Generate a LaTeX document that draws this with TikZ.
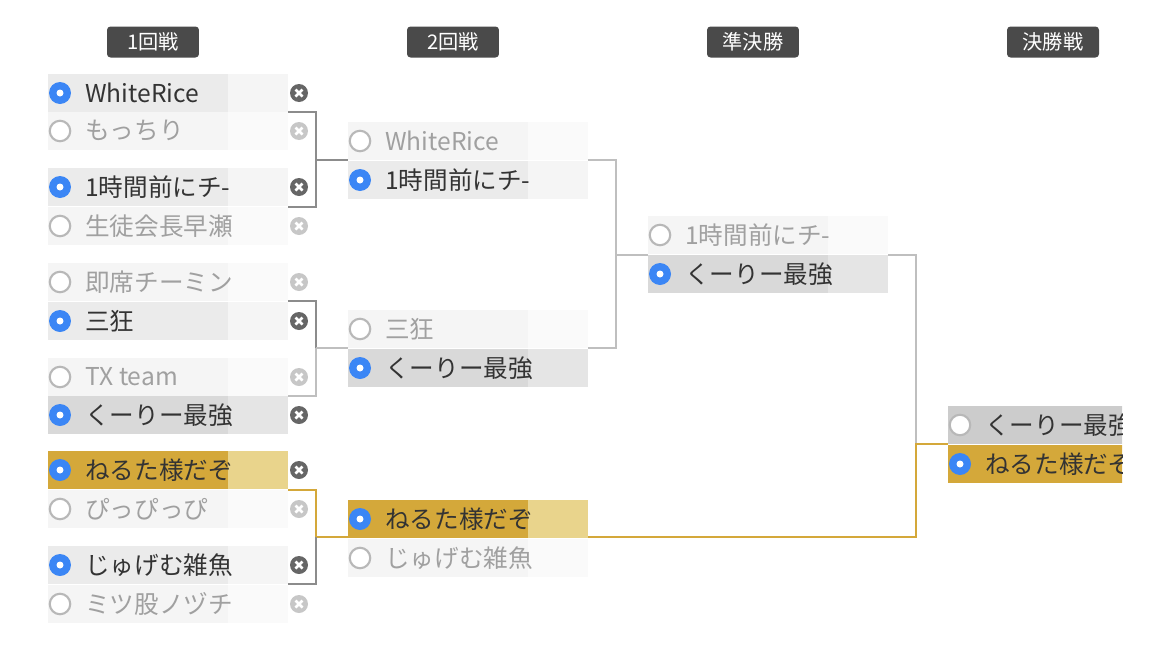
\documentclass[tikz,border=0pt]{standalone}
\usepackage{fontspec}
\setmainfont{Noto Sans CJK JP}
\begin{document}

\definecolor{headbg}{HTML}{4A4A4A}
\definecolor{radioblue}{HTML}{3B86F5}
\definecolor{gold}{HTML}{D4A83A}
\definecolor{goldlt}{HTML}{E9D48C}
\definecolor{wtxt}{HTML}{333333}
\definecolor{ltxt}{HTML}{A0A0A0}

% one slot: name, x, y, left fill, right fill, radio style, text colour, text
\newcommand\slot[8]{%
\fill[#4] (#2,#3-19) rectangle (#2+180,#3+19);
\fill[#5] (#2+180,#3-19) rectangle (#2+240,#3+19);
\node[#6] (#1r) at (#2+12,#3) {};
\node[anchor=west,text=#7,font=\fontsize{14}{16}\selectfont] (#1) at (#2+31,#3) {#8};
}

% remove mark
\newcommand\xmark[3]{%
\fill[#3] (#1,#2) circle (0.18cm);
\draw[white,line width=1.5pt] (#1-3.5,#2-3.5) -- (#1+3.5,#2+3.5) (#1-3.5,#2+3.5) -- (#1+3.5,#2-3.5);
}

\begin{tikzpicture}[x=0.02cm,y=-0.02cm,
  head/.style={fill=headbg,text=white,rounded corners=2pt,minimum width=1.84cm,minimum height=0.62cm,font=\fontsize{11.5}{13}\selectfont,inner sep=0pt},
  on/.style={circle,fill=radioblue,minimum size=0.44cm,inner sep=0pt,
    path picture={\fill[white] (path picture bounding box.center) circle (0.07cm);}},
  off/.style={circle,draw=black!28,line width=1.2pt,fill=white,minimum size=0.41cm,inner sep=0pt},
  line/.style={line width=1.3pt,draw=black!25},
  dline/.style={line width=1.3pt,draw=black!45},
  gline/.style={line width=1.3pt,draw=gold}]

\useasboundingbox (0,0) rectangle (1170,670);

%%% Round headers

\node[head] (h1) at (153,42) {1回戦};
\node[head] (h2) at (453,42) {2回戦};
\node[head] (h3) at (753,42) {準決勝};
\node[head] (h4) at (1053,42) {決勝戦};

%%% Connectors

% round 1 -> round 2
\draw[dline] (288,112) -- (316,112) -- (316,207) -- (288,207);
\draw[dline] (316,160) -- (348,160);
\draw[dline] (288,301) -- (316,301) -- (316,348);
\draw[line] (316,348) -- (316,396) -- (288,396);
\draw[line] (316,348) -- (348,348);
\draw[gline] (288,490) -- (316,490) -- (316,537) -- (348,537);
\draw[dline] (316,537) -- (316,584) -- (288,584);

% round 2 -> semi final
\draw[line] (588,160) -- (616,160) -- (616,348) -- (588,348);
\draw[line] (616,255) -- (648,255);

% semi final -> final
\draw[line] (888,255) -- (916,255) -- (916,444);
\draw[gline] (588,537) -- (916,537) -- (916,444) -- (948,444);

%%% Round 1

\slot{a1}{48}{93}{black!8}{black!4}{on}{wtxt}{WhiteRice}
\slot{a2}{48}{131}{black!4}{black!2}{off}{ltxt}{もっちり}
\slot{a3}{48}{187}{black!8}{black!4}{on}{wtxt}{1時間前にチ-}
\slot{a4}{48}{226}{black!4}{black!2}{off}{ltxt}{生徒会長早瀬}
\slot{a5}{48}{282}{black!4}{black!2}{off}{ltxt}{即席チーミン}
\slot{a6}{48}{321}{black!8}{black!4}{on}{wtxt}{三狂}
\slot{a7}{48}{377}{black!4}{black!2}{off}{ltxt}{TX team}
\slot{a8}{48}{415}{black!15}{black!10}{on}{wtxt}{くーりー最強}
\slot{a9}{48}{470}{gold}{goldlt}{on}{wtxt}{ねるた様だぞ}
\slot{a10}{48}{509}{black!4}{black!2}{off}{ltxt}{ぴっぴっぴ}
\slot{a11}{48}{565}{black!8}{black!4}{on}{wtxt}{じゅげむ雑魚}
\slot{a12}{48}{604}{black!4}{black!2}{off}{ltxt}{ミツ股ノヅチ}

\xmark{299}{93}{black!60}
\xmark{299}{131}{black!22}
\xmark{299}{187}{black!60}
\xmark{299}{226}{black!22}
\xmark{299}{282}{black!22}
\xmark{299}{321}{black!60}
\xmark{299}{377}{black!22}
\xmark{299}{415}{black!60}
\xmark{299}{470}{black!60}
\xmark{299}{509}{black!22}
\xmark{299}{565}{black!60}
\xmark{299}{604}{black!22}

%%% Round 2

\slot{b1}{348}{141}{black!4}{black!2}{off}{ltxt}{WhiteRice}
\slot{b2}{348}{180}{black!8}{black!4}{on}{wtxt}{1時間前にチ-}
\slot{b3}{348}{329}{black!4}{black!2}{off}{ltxt}{三狂}
\slot{b4}{348}{368}{black!15}{black!10}{on}{wtxt}{くーりー最強}
\slot{b5}{348}{519}{gold}{goldlt}{on}{wtxt}{ねるた様だぞ}
\slot{b6}{348}{558}{black!4}{black!2}{off}{ltxt}{じゅげむ雑魚}

%%% Semi final

\slot{c1}{648}{235}{black!4}{black!2}{off}{ltxt}{1時間前にチ-}
\slot{c2}{648}{274}{black!15}{black!10}{on}{wtxt}{くーりー最強}

%%% Final

\begin{scope}
\clip (948,400) rectangle (1122,490);
\slot{d1}{948}{425}{black!20}{black!20}{off}{wtxt}{くーりー最強}
\slot{d2}{948}{464}{gold}{gold}{on}{wtxt}{ねるた様だぞ}
\end{scope}

\end{tikzpicture}
\end{document}
